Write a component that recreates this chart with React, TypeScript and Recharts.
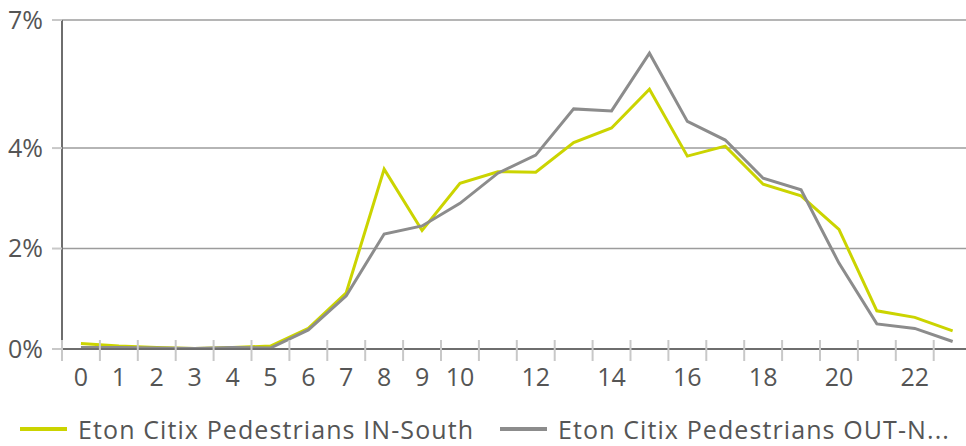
import { LineChart, Line, XAxis, YAxis, CartesianGrid } from "recharts";

const hours = [
  0, 1, 2, 3, 4, 5, 6, 7, 8, 9, 10, 11, 12, 13, 14, 15, 16, 17, 18, 19, 20, 21,
  22, 23,
];

const inSouth = [
  0.11, 0.06, 0.03, 0.01, 0.03, 0.06, 0.41, 1.12, 3.58, 2.36, 3.3, 3.53, 3.52,
  4.11, 4.4, 5.17, 3.84, 4.04, 3.28, 3.05, 2.38, 0.76, 0.63, 0.36,
];

const outNorth = [
  0.03, 0.03, 0.02, 0.01, 0.03, 0.02, 0.38, 1.06, 2.29, 2.45, 2.9, 3.5, 3.86,
  4.78, 4.74, 5.89, 4.53, 4.16, 3.4, 3.17, 1.71, 0.5, 0.41, 0.15,
];

const yTicks = [0, 2, 4, 6.55];

const IN_NAME = "Eton Citix Pedestrians IN-South";
const OUT_NAME = "Eton Citix Pedestrians OUT-N...";

const data = hours.map((h, i) => ({
  hour: h,
  inSouth: inSouth[i],
  outNorth: outNorth[i],
}));

const YELLOW = "#cbd400";
const GREY = "#8c8c8c";
const TEXT = "#555555";
const FONT = "'Open Sans', 'Liberation Sans', sans-serif";
const HALF_BAND = 18.95;

function HourTick(props: any) {
  const { x, y, payload } = props;
  const h = payload.value as number;
  const showLabel = h <= 10 || h % 2 === 0;
  return (
    <g>
      <line
        x1={x - HALF_BAND}
        x2={x - HALF_BAND}
        y1={y - 9}
        y2={y + 12}
        stroke="#c8c8c8"
        strokeWidth={2}
      />
      {showLabel && (
        <text
          x={x}
          y={y + 37}
          textAnchor="middle"
          fill={TEXT}
          fontSize={25}
          fontFamily={FONT}
        >
          {h}
        </text>
      )}
    </g>
  );
}

function LegendItem({ color, name, left }: { color: string; name: string; left: number }) {
  return (
    <div
      style={{
        position: "absolute",
        left,
        top: 412,
        display: "flex",
        alignItems: "center",
        height: 34,
      }}
    >
      <div style={{ width: 47, height: 4, background: color, marginRight: 11 }} />
      <div
        style={{
          whiteSpace: "nowrap",
          fontSize: 25,
          lineHeight: "30px",
          letterSpacing: 1.1,
          fontFamily: FONT,
          color: TEXT,
        }}
      >
        {name}
      </div>
    </div>
  );
}

export default function App() {
  return (
    <div
      style={{
        position: "absolute",
        left: 0,
        top: 0,
        width: 966,
        height: 446,
        overflow: "hidden",
        background: "#fff",
      }}
    >
      <LineChart
        width={980}
        height={446}
        data={data}
        margin={{ top: 20, right: 8.4, left: 0, bottom: 0 }}
      >
        <CartesianGrid vertical={false} stroke="#9c9c9c" strokeWidth={1.5} />
        <XAxis
          dataKey="hour"
          interval={0}
          height={97}
          padding={{ left: HALF_BAND, right: HALF_BAND }}
          tickLine={false}
          tickSize={0}
          tickMargin={0}
          axisLine={{ stroke: "#6e6e6e", strokeWidth: 2 }}
          tick={<HourTick />}
        />
        <YAxis
          width={62}
          domain={[0, 6.55]}
          ticks={yTicks}
          interval={0}
          tickFormatter={(v: number) => `${Math.round(v)}%`}
          tickSize={10}
          tickMargin={9}
          tickLine={{ stroke: "#c8c8c8", strokeWidth: 2 }}
          axisLine={{ stroke: "#6e6e6e", strokeWidth: 2 }}
          tick={{ fill: TEXT, fontSize: 25, fontFamily: FONT }}
        />
        <Line
          type="linear"
          dataKey="inSouth"
          name={IN_NAME}
          stroke={YELLOW}
          strokeWidth={3}
          dot={false}
          isAnimationActive={false}
        />
        <Line
          type="linear"
          dataKey="outNorth"
          name={OUT_NAME}
          stroke={GREY}
          strokeWidth={3}
          dot={false}
          isAnimationActive={false}
        />
      </LineChart>
      <LegendItem color={YELLOW} name={IN_NAME} left={20} />
      <LegendItem color={GREY} name={OUT_NAME} left={500} />
    </div>
  );
}
